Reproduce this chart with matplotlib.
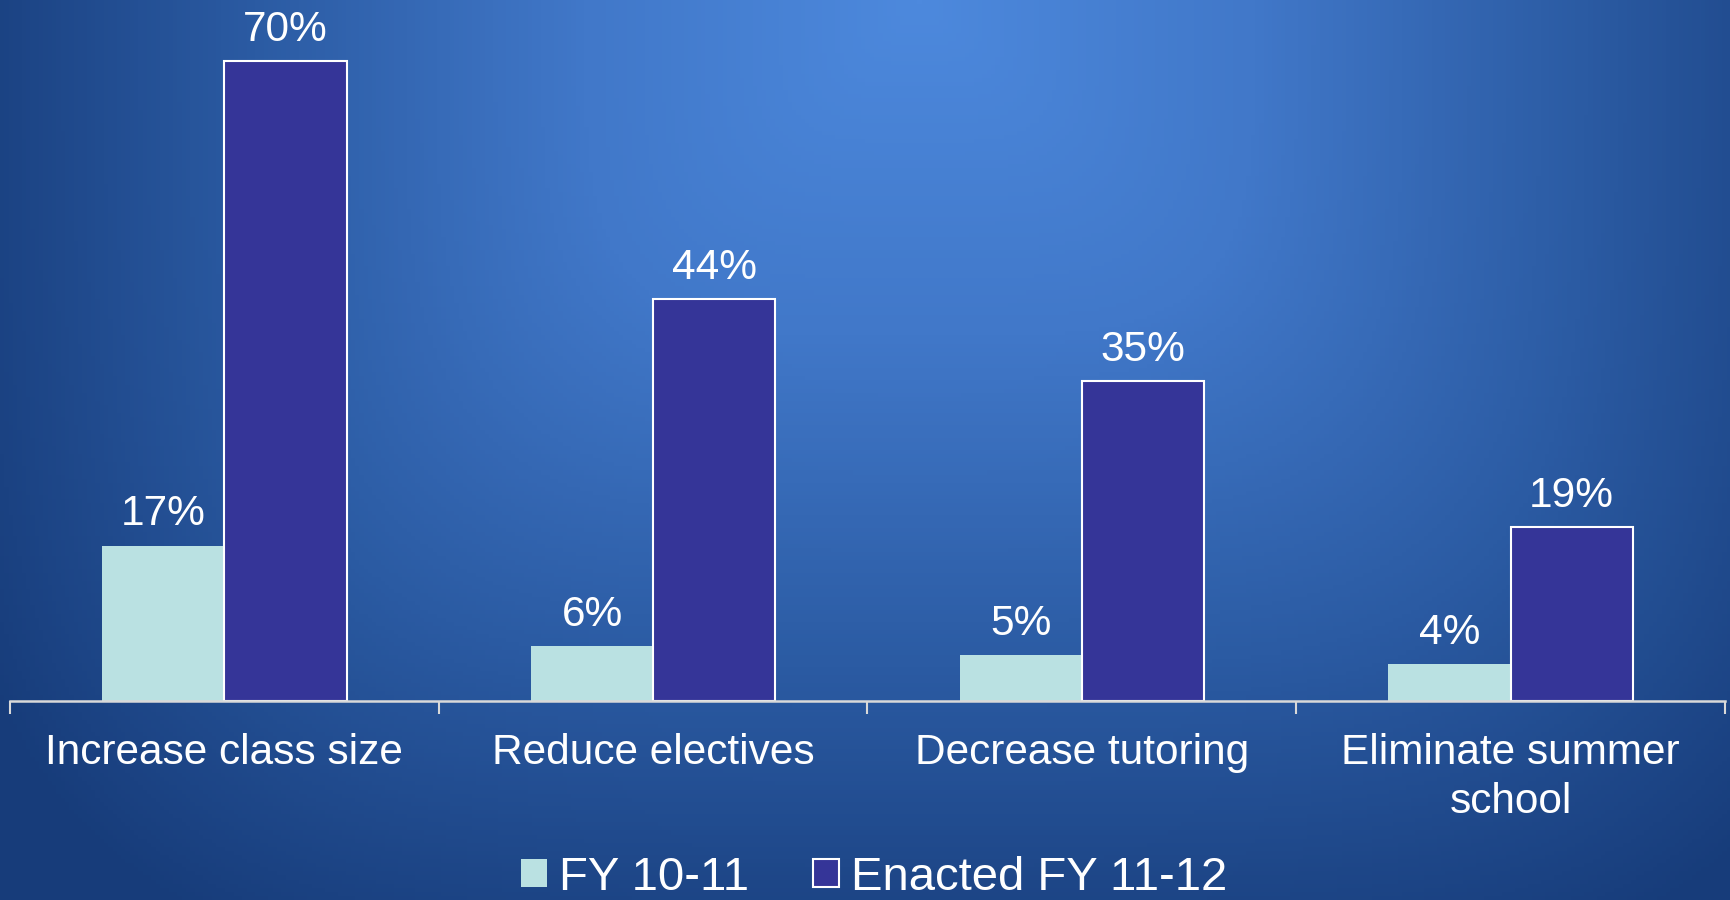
import numpy as np
import matplotlib
matplotlib.use("Agg")
from matplotlib import pyplot as plt
from matplotlib.patches import Patch
from matplotlib.colors import LinearSegmentedColormap

plt.rcParams['font.family'] = ['Liberation Sans', 'DejaVu Sans']

categories = ['Increase class size', 'Reduce electives', 'Decrease tutoring', 'Eliminate summer\nschool']
fy_10_11 = [17, 6, 5, 4]
fy_11_12 = [70, 44, 35, 19]
series_names = ['FY 10-11', 'Enacted FY 11-12']

light = '#bae1e2'
dark = '#353598'

W, H = 1731, 900
fig = plt.figure(figsize=(W / 100, H / 100), dpi=100)

# background: path-style gradient, bright at the top middle
bg = fig.add_axes([0, 0, 1, 1], zorder=-10)
xx, yy = np.meshgrid(np.linspace(0, W, 400), np.linspace(0, H, 220))
dx = np.abs(xx - 920) / 1000
dy = np.abs(yy - 0) / 1000
d = (dx ** 4 + dy ** 4) ** (1 / 4)
d = np.clip(d, 0, 1)
cmap = LinearSegmentedColormap.from_list('bg', ['#4d89dd', '#4178c9', '#2b5ba3', '#173c7a'])
bg.imshow(d, cmap=cmap, vmin=0, vmax=1, aspect='auto', extent=[0, W, H, 0])
bg.axis('off')

px = 9.143  # pixels per percent
ax = fig.add_axes([10 / W, (H - 701) / H, 1715 / W, 76 * px / H])
ax.patch.set_alpha(0)

x = np.arange(len(categories))
bw = 0.285
b1 = ax.bar(x - bw / 2, fy_10_11, bw, color=light, edgecolor='none')
b2 = ax.bar(x + bw / 2, fy_11_12, bw, color=dark, edgecolor='white', linewidth=1.5)

for bars, vals in ((b1, fy_10_11), (b2, fy_11_12)):
    for b, v in zip(bars, vals):
        ax.annotate('{}%'.format(v), (b.get_x() + b.get_width() / 2, v),
                    xytext=(0, 8), textcoords='offset points',
                    ha='center', va='bottom', color='white', fontsize=30.5,
                    annotation_clip=False)

ax.set_xlim(-0.5, len(categories) - 0.5)
ax.set_ylim(0, 76)
for s in ('top', 'right', 'left'):
    ax.spines[s].set_visible(False)
ax.spines['bottom'].set_color('#d9d9d9')
ax.spines['bottom'].set_linewidth(1.8)
ax.set_yticks([])

ax.set_xticks(np.arange(len(categories) + 1) - 0.5)
ax.set_xticklabels([])
ax.tick_params(axis='x', which='major', length=9, width=1.5, color='#d9d9d9', direction='out')
ax.set_xticks(x, minor=True)
ax.set_xticklabels(categories, minor=True, fontsize=30.5, color='white', linespacing=1.3)
ax.tick_params(axis='x', which='minor', length=0, pad=23)

handles = [Patch(facecolor=light, edgecolor='none'),
           Patch(facecolor=dark, edgecolor='white', linewidth=1.5)]
fig.legend(handles, series_names, loc='center', bbox_to_anchor=(0.505, 0.025),
           ncol=2, frameon=False, fontsize=34, labelcolor='white',
           handlelength=0.55, handleheight=0.55, handletextpad=0.25,
           columnspacing=1.35, borderpad=0)

fig.savefig('out.png', dpi=100)
